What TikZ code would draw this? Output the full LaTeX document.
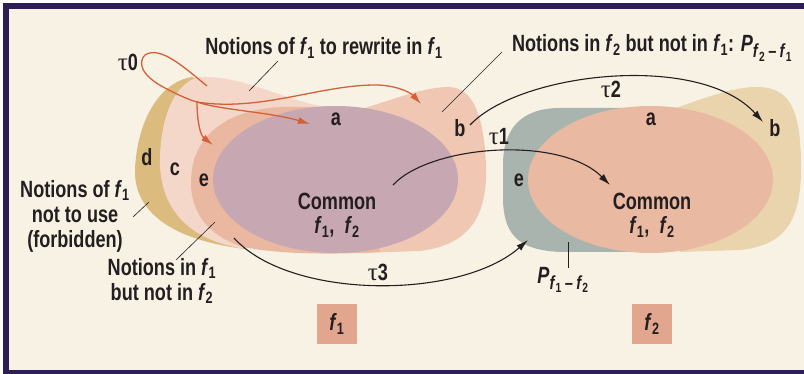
\documentclass[tikz,border=0pt]{standalone}
\usepackage{fontspec}
\setmainfont{Liberation Sans}[FakeStretch=0.77]
\newfontfamily\taufont{Liberation Serif}
\usetikzlibrary{arrows.meta,positioning}

\definecolor{frame}{HTML}{2D1E58}
\definecolor{cream}{HTML}{F8F2E5}
\definecolor{ink}{HTML}{231F20}
\definecolor{tanD}{HTML}{DBBB7E}
\definecolor{pinkC}{HTML}{F4D7C9}
\definecolor{pinkB}{HTML}{F0C7B3}
\definecolor{pinkE}{HTML}{EAB8A0}
\definecolor{common}{HTML}{C7A8B2}
\definecolor{greyP}{HTML}{A9B4AF}
\definecolor{tanL}{HTML}{EAD4AE}
\definecolor{salmon}{HTML}{EAB9A2}
\definecolor{boxc}{HTML}{E2A68E}
\definecolor{orng}{HTML}{D4603A}

\newcommand{\fsub}[1]{\textit{f}\textsubscript{#1}}
\newcommand{\Pdiff}[2]{\textit{P}\raisebox{-6pt}{\fontsize{19}{19}\selectfont\fsub{#1}\,–\,\fsub{#2}}}
\newcommand{\tname}[1]{{\taufont\mdseries\fontsize{25}{25}\selectfont τ}#1}

\begin{document}
\begin{tikzpicture}[x=1pt,y=-1pt,
  lbl/.style={font=\bfseries\fontsize{23.5}{25}\selectfont, text=ink, inner sep=0pt, align=center},
  fbox/.style={lbl, fill=boxc, minimum size=40pt},
  blk/.style={draw=ink, line width=1.1pt, -{Latex[length=12pt,width=7pt]}},
  orarrow/.style={draw=orng, line width=1.3pt, -{Latex[length=12pt,width=7pt]}},
  leader/.style={draw=ink, line width=0.6pt}]
  \useasboundingbox (0,0) rectangle (804,374);
  % frame
  \fill[white] (0,0) rectangle (804,374);
  \fill[frame] (3,3) rectangle (804,374);
  \fill[cream] (9,9) rectangle (804,370);

  % regions of f1
  \fill[tanD] (192,77) .. controls (160,82) and (137,120) .. (135,170)
    .. controls (134,212) and (172,240) .. (245,249) -- (260,230) -- (220,90) -- cycle;
  \fill[pinkC] (200,77) .. controls (240,75) and (280,98) .. (320,106)
    .. controls (340,110) and (355,111) .. (365,110) -- (400,160) -- (380,245) -- (240,248)
    .. controls (195,240) and (162,215) .. (160,165) .. controls (159,125) and (172,82) .. cycle;
  \fill[pinkB] (350,112) .. controls (380,105) and (420,87) .. (448,87)
    .. controls (475,87) and (484,120) .. (486,165) .. controls (488,215) and (470,245) .. (420,251)
    -- (360,253) -- (350,150) -- cycle;
  \fill[pinkE] (285,107) .. controls (240,108) and (205,125) .. (194,160)
    .. controls (185,195) and (195,230) .. (240,246) .. controls (270,254) and (330,255) .. (380,252)
    -- (360,150) -- (330,107) -- cycle;
  \fill[common] (335.5,179.5) ellipse [x radius=122.5, y radius=73.5];

  % regions of f2
  \fill[tanL] (670,110) .. controls (700,100) and (730,87) .. (757,87)
    .. controls (790,87) and (800,110) .. (801,160) .. controls (802,215) and (790,245) .. (740,250)
    -- (680,252) -- (650,180) -- cycle;
  \fill[greyP] (560,108) -- (625,108) -- (645,150) -- (640,252) -- (560,252)
    .. controls (522,250) and (504,238) .. (503,200) -- (503,165)
    .. controls (503,130) and (520,108) .. cycle;
  \fill[salmon] (650.5,179.5) ellipse [x radius=122.5, y radius=73.5];

  % labels
  \node[lbl] (title1) at (324,48) {Notions of \fsub{1} to rewrite in \fsub{1}};
  \node[lbl] (title2) at (652,48) {Notions in \fsub{2} but not in \fsub{1}: \Pdiff{2}{1}};
  \node[lbl] (forbid) at (75,216) {Notions of \fsub{1}\\not to use\\(forbidden)};
  \node[lbl] (only1) at (162,281) {Notions in \fsub{1}\\but not in \fsub{2}};
  \node[lbl] (pdiff) at (563,280) {\Pdiff{1}{2}};
  \node[lbl] (t0) at (128,62) {\tname{0}};
  \node[lbl] (t1) at (499,137) {\tname{1}};
  \node[lbl] (t2) at (611,89) {\tname{2}};
  \node[lbl] (t3) at (378,272) {\tname{3}};
  \node[lbl] (d1) at (147,157) {d};
  \node[lbl] (c1) at (175,169) {c};
  \node[lbl] (e1) at (204,180) {e};
  \node[lbl] (a1) at (336,119) {a};
  \node[lbl] (b1) at (460,128) {b};
  \node[lbl] (a2) at (651,119) {a};
  \node[lbl] (b2) at (775,128) {b};
  \node[lbl] (e2) at (519,180) {e};
  \node[lbl] (common1) at (337,201) {Common};
  \node[lbl, below=7pt of common1] (pair1) {\fsub{1}, \ \fsub{2}};
  \node[lbl] (common2) at (652,201) {Common};
  \node[lbl, below=7pt of common2] (pair2) {\fsub{1}, \ \fsub{2}};
  \node[fbox] (f1) at (337,324) {\fsub{1}};
  \node[fbox] (f2) at (652,324) {\fsub{2}};

  % end points
  \coordinate (t0s) at (207,86);
  \coordinate (t0m) at (197,102);
  \coordinate (t0b) at (421,104);
  \coordinate (t0a) at (310,124);
  \coordinate (t0e) at (213,145);
  \coordinate (t1s) at (393,185);
  \coordinate (t1e) at (610,185);
  \coordinate (t2s) at (470,125);
  \coordinate (t2e) at (763,122);
  \coordinate (t3s) at (234,238);
  \coordinate (t3e) at (528,240);

  % tau0, the orange loop
  \draw[draw=orng, line width=1.3pt] (t0s) .. controls (185,68) and (160,45) .. (145,55) .. controls (138,62) and (140,75) .. (165,88) .. controls (180,96) and (190,100) .. (t0m);
  \draw[orarrow] (t0m) .. controls (260,112) and (320,85) .. (375,85) .. controls (395,85) and (410,92) .. (t0b);
  \draw[orarrow] (t0m) .. controls (220,110) and (270,112) .. (t0a);
  \draw[orarrow] (t0m) .. controls (197,120) and (200,135) .. (t0e);

  % tau1 to tau3
  \draw[blk] (t1s) .. controls (430,145) and (560,135) .. (t1e);
  \draw[blk] (t2s) .. controls (520,72) and (700,52) .. (t2e);
  \draw[blk] (t3s) .. controls (290,300) and (460,300) .. (t3e);

  % leaders
  \coordinate (l1a) at (278,61);  \coordinate (l1b) at (249,91);
  \coordinate (l2a) at (502,52);  \coordinate (l2b) at (442,112);
  \coordinate (l3a) at (133,217); \coordinate (l3b) at (149,202);
  \coordinate (l4a) at (176,260); \coordinate (l4b) at (215,222);
  \coordinate (l5a) at (568,242); \coordinate (l5b) at (568,268);
  \draw[leader] (l1a) -- (l1b);
  \draw[leader] (l2a) -- (l2b);
  \draw[leader] (l3a) -- (l3b);
  \draw[leader] (l4a) -- (l4b);
  \draw[leader] (l5a) -- (l5b);
\end{tikzpicture}
\end{document}
